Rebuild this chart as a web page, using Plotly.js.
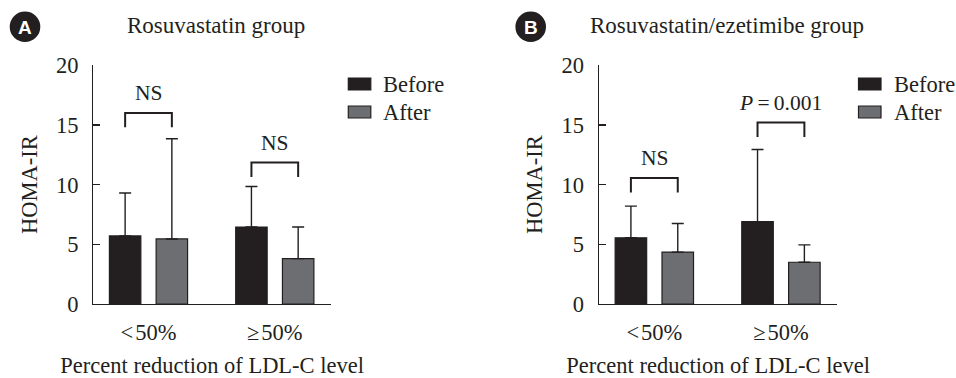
<!DOCTYPE html>
<html>
<head>
<meta charset="utf-8">
<script src="https://cdn.plot.ly/plotly-3.0.1.min.js"></script>
<style>html,body{margin:0;padding:0;background:#fff;}#chart{width:956px;height:378px;}</style>
</head>
<body>
<div id="chart"></div>
<script>
// ---- data ----
var categories = ['<\u200a50%', '\u2265\u200a50%'];
var seriesNames = ['Before', 'After'];
var panelTitles = ['Rosuvastatin group', 'Rosuvastatin/ezetimibe group'];
var panelLetters = ['A', 'B'];
var yTickVals = [0, 5, 10, 15, 20];

// Panel A (Rosuvastatin)
var rosBefore = [5.7, 6.45];
var rosBeforeSD = [3.6, 3.4];
var rosAfter = [5.45, 3.8];
var rosAfterSD = [8.4, 2.65];
var rosBracketTop = [16.0, 11.85];
var rosBracketLabel = ['NS', 'NS'];

// Panel B (Rosuvastatin/ezetimibe)
var ezeBefore = [5.55, 6.9];
var ezeBeforeSD = [2.65, 6.05];
var ezeAfter = [4.35, 3.5];
var ezeAfterSD = [2.4, 1.45];
var ezeBracketTop = [10.55, 15.2];
var ezeBracketLabel = ['NS', '<i>P</i>\u2009=\u20090.001'];

// ---- style ----
var DARK = '#231f20';
var GRAY = '#6d6e71';
var FONT = 'Liberation Serif';
var FS = 22.5;
var W = 956, H = 378;

var xIdx = categories.map(function (c, i) { return i; });

function barTrace(y, sd, color, name, xa, ya) {
  return {
    type: 'bar', x: xIdx, y: y, name: name, xaxis: xa, yaxis: ya,
    marker: {color: color, line: {color: DARK, width: 1.2}},
    error_y: {type: 'data', array: sd, arrayminus: sd.map(function () { return 0; }),
      symmetric: false, color: DARK, thickness: 1.4, width: 6},
    showlegend: false, hoverinfo: 'x+y'
  };
}

var data = [
  barTrace(rosBefore, rosBeforeSD, DARK, seriesNames[0], 'x', 'y'),
  barTrace(rosAfter, rosAfterSD, GRAY, seriesNames[1], 'x', 'y'),
  barTrace(ezeBefore, ezeBeforeSD, DARK, seriesNames[0], 'x2', 'y2'),
  barTrace(ezeAfter, ezeAfterSD, GRAY, seriesNames[1], 'x2', 'y2')
];

var bargap = 0.26;
var slot = (1 - bargap) / 2;
var halfOff = slot / 2;
var legH = 1.2; // bracket leg length in data units

var shapes = [];
var annotations = [];

function addBrackets(tops, labels, xref, yref) {
  tops.forEach(function (t, i) {
    var x0 = xIdx[i] - halfOff, x1 = xIdx[i] + halfOff;
    shapes.push({type: 'path', xref: xref, yref: yref,
      path: 'M' + x0 + ',' + (t - legH) + ' L' + x0 + ',' + t + ' L' + x1 + ',' + t + ' L' + x1 + ',' + (t - legH),
      line: {color: DARK, width: 2}});
    annotations.push({xref: xref, yref: yref, x: xIdx[i], y: t, yanchor: 'bottom', yshift: 6,
      text: labels[i], showarrow: false, font: {family: FONT, size: FS - 1, color: DARK}});
  });
}
addBrackets(rosBracketTop, rosBracketLabel, 'x', 'y');
addBrackets(ezeBracketTop, ezeBracketLabel, 'x2', 'y2');

// panel titles and letter badges
var titleX = [216, 727];
var badgeX = [25, 530.7];
[0, 1].forEach(function (p) {
  annotations.push({xref: 'paper', yref: 'paper', x: titleX[p] / W, y: 1 - 25 / H,
    xanchor: 'center', yanchor: 'middle', text: panelTitles[p], showarrow: false,
    font: {family: FONT, size: FS + 0.5, color: DARK}});
  shapes.push({type: 'circle', xref: 'paper', yref: 'paper',
    x0: (badgeX[p] - 15.3) / W, x1: (badgeX[p] + 15.3) / W,
    y0: 1 - (26.7 + 15.3) / H, y1: 1 - (26.7 - 15.3) / H,
    fillcolor: DARK, line: {width: 0}});
  annotations.push({xref: 'paper', yref: 'paper', x: badgeX[p] / W, y: 1 - 27.5 / H,
    xanchor: 'center', yanchor: 'middle', text: '<b>' + panelLetters[p] + '</b>', showarrow: false,
    font: {family: 'Liberation Sans', size: 19, color: '#ffffff'}});
});

// manual legends
var legX = [348.3, 858.5];
var legRowY = [84, 112];
var legColors = [DARK, GRAY];
[0, 1].forEach(function (p) {
  [0, 1].forEach(function (k) {
    shapes.push({type: 'rect', xref: 'paper', yref: 'paper',
      x0: legX[p] / W, x1: (legX[p] + 22.5) / W,
      y0: 1 - (legRowY[k] + 6) / H, y1: 1 - (legRowY[k] - 6) / H,
      fillcolor: legColors[k], line: {color: DARK, width: 1.2}});
    annotations.push({xref: 'paper', yref: 'paper', x: (legX[p] + 33) / W, y: 1 - legRowY[k] / H,
      xanchor: 'left', yanchor: 'middle', text: seriesNames[k], showarrow: false,
      font: {family: FONT, size: FS, color: DARK}});
  });
});

function xAxis(domain, anchor) {
  return {domain: domain, anchor: anchor, type: 'linear', range: [-0.437, 1.445],
    tickvals: xIdx, ticktext: categories, ticks: '', showline: true, linecolor: DARK, linewidth: 1.4,
    showgrid: false, zeroline: false, ticklabelstandoff: 8,
    tickfont: {family: FONT, size: FS, color: DARK},
    title: {text: 'Percent reduction of LDL-C level', font: {family: FONT, size: FS, color: DARK}, standoff: 15}};
}
function yAxis(domain, anchor) {
  return {domain: domain, anchor: anchor, range: [0, 20], tickvals: yTickVals,
    ticks: 'inside', ticklen: 7, tickwidth: 1.4, tickcolor: DARK,
    showline: true, linecolor: DARK, linewidth: 1.4, showgrid: false, zeroline: false,
    ticklabelstandoff: 9,
    tickfont: {family: FONT, size: FS, color: DARK},
    title: {text: 'HOMA-IR', font: {family: FONT, size: FS, color: DARK}, standoff: 12}};
}

var yDom = [(H - 304) / H, (H - 65.3) / H];
var layout = {
  width: W, height: H,
  margin: {l: 0, r: 0, t: 0, b: 0},
  paper_bgcolor: '#ffffff', plot_bgcolor: '#ffffff',
  barmode: 'group', bargap: bargap, bargroupgap: 0.327,
  showlegend: false,
  xaxis: xAxis([93.3 / W, 331 / W], 'y'),
  yaxis: yAxis(yDom, 'x'),
  xaxis2: xAxis([599 / W, 837.3 / W], 'y2'),
  yaxis2: yAxis(yDom, 'x2'),
  shapes: shapes,
  annotations: annotations,
  font: {family: FONT, color: DARK}
};

Plotly.newPlot('chart', data, layout, {displayModeBar: false, staticPlot: true});
</script>
</body>
</html>
